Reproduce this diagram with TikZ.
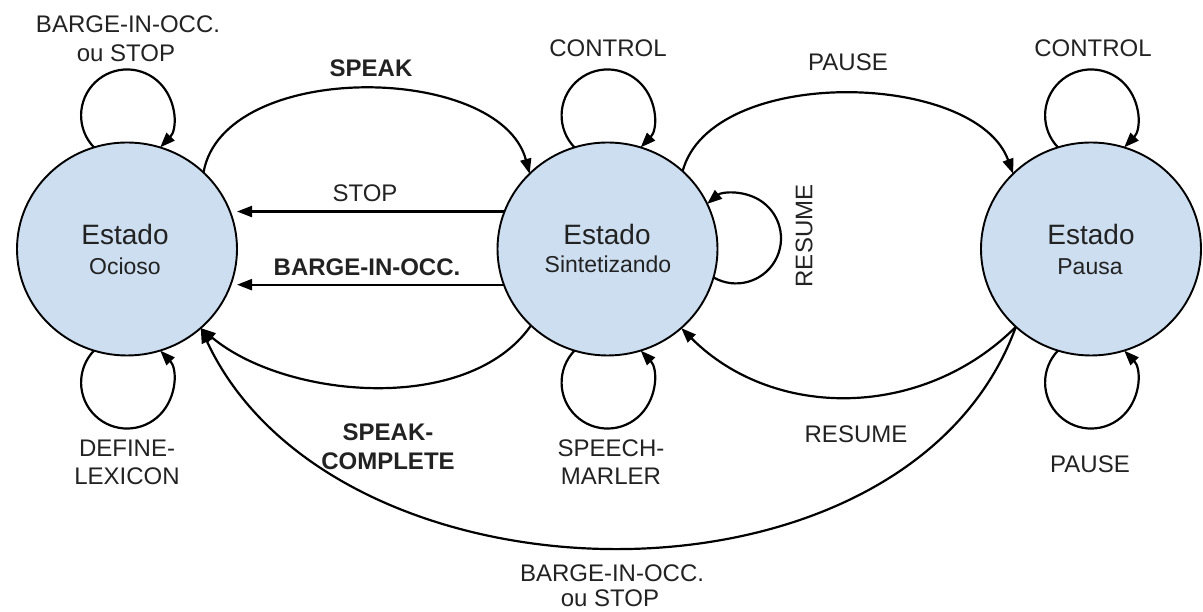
\documentclass[tikz,border=0pt]{standalone}
\usepackage{fontspec}
\setmainfont{Liberation Sans}
\usetikzlibrary{arrows.meta,shapes.geometric}
\definecolor{statefill}{RGB}{204,222,240}
\definecolor{txt}{RGB}{34,34,34}
\begin{document}
\begin{tikzpicture}[x=1pt,y=1pt,
  state/.style={ellipse, draw=black, line width=1.9pt, fill=statefill, minimum width=220pt, minimum height=213pt, inner sep=0pt, outer sep=0pt},
  edge/.style={line width=2.2pt, draw=black, -{Triangle[length=15pt,width=11pt]}},
  lbl/.style={font=\fontsize{24}{28}\selectfont, text=txt, inner sep=0pt, anchor=base},
  blbl/.style={lbl, font=\fontsize{24}{28}\selectfont\bfseries},
  ttl/.style={font=\fontsize{28}{32}\selectfont, text=txt, inner sep=0pt, anchor=base},
  sub/.style={font=\fontsize{23}{27}\selectfont, text=txt, inner sep=0pt, anchor=base}]
\useasboundingbox (0,0) rectangle (1203,612);
% states
\node[state] (L) at (127,363) {};
\node[state] (M) at (607.5,363) {};
\node[state] (R) at (1091,363) {};
\node[ttl] (Lt) at (125,367) {Estado};
\node[sub] (Ls) at (125,337) {Ocioso};
\node[ttl] (Mt) at (607,367) {Estado};
\node[sub] (Ms) at (608,339) {Sintetizando};
\node[ttl] (Rt) at (1091,367) {Estado};
\node[sub] (Rs) at (1090,337) {Pausa};
% labels
\node[lbl] (lTL1) at (128,579) {BARGE-IN-OCC.};
\node[lbl] (lTL2) at (126,550) {ou STOP};
\node[blbl] (lSpeak) at (371,535) {SPEAK};
\node[lbl] (lCtrlM) at (608,555) {CONTROL};
\node[lbl] (lCtrlR) at (1093,555) {CONTROL};
\node[lbl] (lPauseT) at (848,541) {PAUSE};
\node[lbl] (lStop) at (365,410) {STOP};
\node[blbl] (lBarge) at (367,336) {BARGE-IN-OCC.};
\node[lbl, rotate=90, anchor=center] (lResV) at (804,376) {RESUME};
\node[blbl] (lSC1) at (388,171) {SPEAK-};
\node[blbl] (lSC2) at (388,142) {COMPLETE};
\node[lbl] (lSM1) at (611,155) {SPEECH-};
\node[lbl] (lSM2) at (611,127) {MARLER};
\node[lbl] (lDL1) at (127,155) {DEFINE-};
\node[lbl] (lDL2) at (127,127) {LEXICON};
\node[lbl] (lResB) at (856,169) {RESUME};
\node[lbl] (lPauseB) at (1090,139) {PAUSE};
\node[lbl] (lBB1) at (612,30) {BARGE-IN-OCC.};
\node[lbl] (lBB2) at (610,5) {ou STOP};
% transitions
\draw[edge] (L.45) to[out=80,in=105,looseness=0.9] (M.136);
\draw[edge] (M.160) -- (M.160 -| L.east);
\draw[edge] (M.199) -- (M.199 -| L.east);
\draw[edge] (M.225) to[out=235,in=-40,looseness=0.85] (L.-47);
\draw[edge] (M.46) to[out=75,in=110,looseness=0.85] (R.136);
\draw[edge] (R.226) to[out=225,in=-45] (M.-47);
\draw[edge] (R.226) to[out=250,in=-65] (L.-47);
% self loops
\draw[edge] (L.108) arc[start angle=224,end angle=-44,radius=46];
\draw[edge] (M.108) arc[start angle=224,end angle=-44,radius=46];
\draw[edge] (R.108) arc[start angle=224,end angle=-44,radius=46];
\draw[edge] (L.252) arc[start angle=136,end angle=404,radius=46];
\draw[edge] (M.252) arc[start angle=136,end angle=404,radius=46];
\draw[edge] (R.252) arc[start angle=136,end angle=404,radius=46];
\draw[edge] (M.-15) arc[start angle=240,end angle=490,radius=45];
\end{tikzpicture}
\end{document}
